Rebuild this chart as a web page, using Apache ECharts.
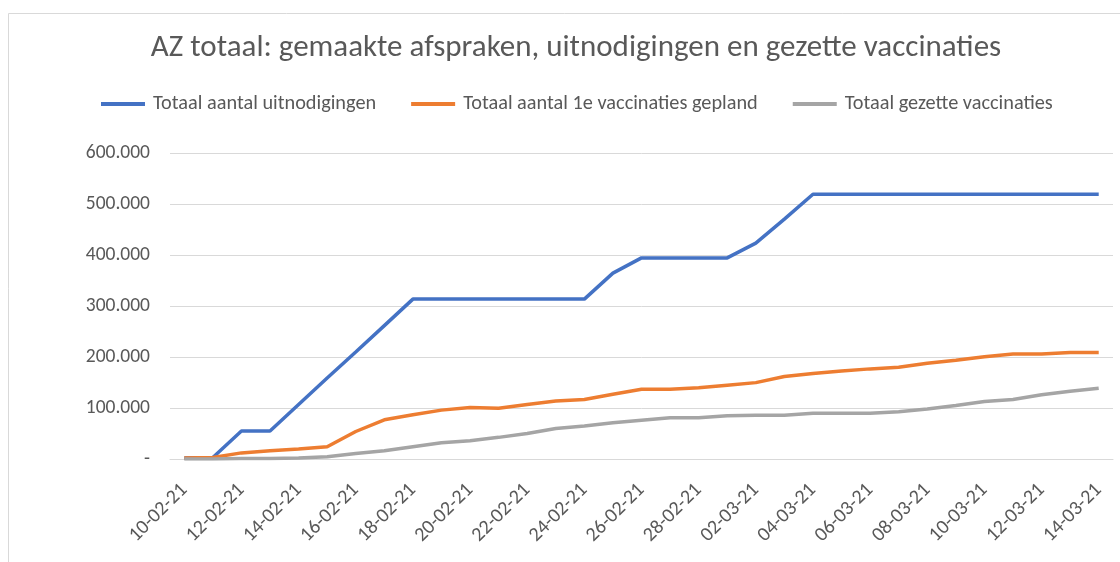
<!DOCTYPE html>
<html>
<head>
<meta charset="utf-8">
<script src="https://cdn.jsdelivr.net/npm/echarts@6/dist/echarts.min.js"></script>
<style>
  html, body { margin: 0; padding: 0; background: #fff; }
  #chart { width: 1120px; height: 562px; }
</style>
</head>
<body>
<div id="chart"></div>
<script>
  // dagen 10-02-21 t/m 14-03-21
  const dates = [
    '10-02-21', '11-02-21', '12-02-21', '13-02-21', '14-02-21', '15-02-21', '16-02-21', '17-02-21',
    '18-02-21', '19-02-21', '20-02-21', '21-02-21', '22-02-21', '23-02-21', '24-02-21', '25-02-21',
    '26-02-21', '27-02-21', '28-02-21', '01-03-21', '02-03-21', '03-03-21', '04-03-21', '05-03-21',
    '06-03-21', '07-03-21', '08-03-21', '09-03-21', '10-03-21', '11-03-21', '12-03-21', '13-03-21',
    '14-03-21',
  ];
  const uitnodigingen = [
    2000, 3000, 55000, 55000, 107000, 159000, 210000, 262000,
    314000, 314000, 314000, 314000, 314000, 314000, 314000, 365000,
    395000, 395000, 395000, 395000, 424000, 471000, 520000, 520000,
    520000, 520000, 520000, 520000, 520000, 520000, 520000, 520000,
    520000,
  ];
  const gepland = [
    2000, 3000, 12000, 16000, 19500, 24000, 54000, 77000,
    87000, 96000, 101000, 99500, 107000, 114000, 117000, 127000,
    137000, 137000, 140000, 145000, 150000, 162000, 168000, 173000,
    177000, 180000, 188000, 194000, 201000, 206000, 206000, 209000,
    209000,
  ];
  const gezet = [
    0, 0, 1000, 1000, 2000, 4500, 11000, 16000,
    24000, 32000, 36000, 42500, 50000, 60000, 65000, 71000,
    76000, 81000, 81000, 85000, 86000, 86000, 90000, 90000,
    90000, 93000, 98000, 105000, 113000, 117000, 126000, 133000,
    139000,
  ];

  const font = 'Calibri, Carlito, "Open Sans", "Noto Sans", sans-serif';
  const myChart = echarts.init(document.getElementById('chart'));
  myChart.setOption({
    backgroundColor: '#fff',
    animation: false,
    title: {
      text: 'AZ totaal: gemaakte afspraken, uitnodigingen en gezette vaccinaties',
      left: 571,
      textAlign: 'center',
      top: 28,
      textStyle: { fontFamily: font, fontSize: 31, fontWeight: 'normal', color: '#595959' },
    },
    legend: {
      top: 89,
      left: 96,
      itemWidth: 44,
      itemHeight: 4,
      itemGap: 35,
      icon: 'rect',
      textStyle: { fontFamily: font, fontSize: 20.3, color: '#595959', padding: [0, 0, 0, 3] },
      data: ['Totaal aantal uitnodigingen', 'Totaal aantal 1e vaccinaties gepland', 'Totaal gezette vaccinaties'],
    },
    graphic: [
      {
        type: 'rect',
        shape: { x: 8.5, y: 13.5, width: 1130, height: 570 },
        style: { fill: 'none', stroke: '#d9d9d9', lineWidth: 1 },
        silent: true,
      },
    ],
    grid: { left: 170, right: 7, top: 153.5, bottom: 103 },
    xAxis: {
      type: 'category',
      data: dates,
      boundaryGap: true,
      axisLine: { lineStyle: { color: '#d9d9d9' } },
      axisTick: { show: false },
      axisLabel: {
        interval: 1,
        rotate: 45,
        margin: 28,
        fontFamily: font,
        fontSize: 20,
        color: '#595959',
      },
    },
    yAxis: {
      type: 'value',
      min: 0,
      max: 600000,
      interval: 100000,
      axisLine: { show: false },
      axisTick: { show: false },
      splitLine: { lineStyle: { color: '#d9d9d9' } },
      axisLabel: {
        margin: 20,
        fontFamily: font,
        fontSize: 19.5,
        color: '#595959',
        formatter: function (v) {
          if (v === 0) return '-';
          return String(v).replace(/\B(?=(\d{3})+(?!\d))/g, '.');
        },
      },
    },
    series: [
      {
        name: 'Totaal aantal uitnodigingen',
        type: 'line',
        data: uitnodigingen,
        symbol: 'none',
        color: '#4472C4',
        lineStyle: { width: 3.5 },
      },
      {
        name: 'Totaal aantal 1e vaccinaties gepland',
        type: 'line',
        data: gepland,
        symbol: 'none',
        color: '#ED7D31',
        lineStyle: { width: 3.5 },
      },
      {
        name: 'Totaal gezette vaccinaties',
        type: 'line',
        data: gezet,
        symbol: 'none',
        color: '#A5A5A5',
        lineStyle: { width: 3.5 },
      },
    ],
  });
</script>
</body>
</html>
